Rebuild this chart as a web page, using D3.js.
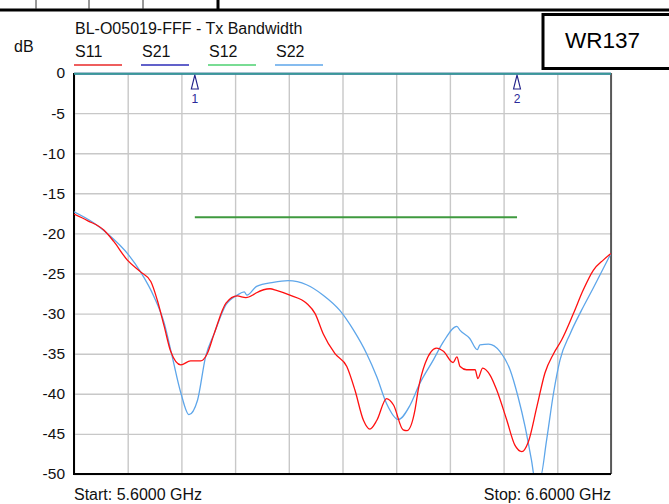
<!DOCTYPE html>
<html>
<head>
<meta charset="utf-8">
<title>BL-O05019-FFF - Tx Bandwidth</title>
<style>
  body { margin: 0; background: #fff; }
  svg { display: block; font-family: "Liberation Sans", Arial, sans-serif; }
</style>
</head>
<body>
<script src="https://cdn.jsdelivr.net/npm/d3@7/dist/d3.min.js"></script>
<script>
// 数据 (GHz, dB)
const s11Freq = [5.600, 5.625, 5.656, 5.674, 5.699, 5.724, 5.743, 5.755, 5.768, 5.780, 5.799, 5.817, 5.836, 5.848, 5.861, 5.883, 5.904, 5.920, 5.935, 5.940, 5.965, 5.977, 6.002, 6.033, 6.049, 6.064, 6.086, 6.108, 6.123, 6.139, 6.151, 6.164, 6.182, 6.195, 6.213, 6.220, 6.235, 6.241, 6.254, 6.275, 6.288, 6.306, 6.313, 6.319, 6.331, 6.347, 6.352, 6.361, 6.375, 6.387, 6.406, 6.421, 6.434, 6.446, 6.462, 6.477, 6.493, 6.508, 6.530, 6.548, 6.567, 6.586, 6.600];
const s11Db = [-17.6, -18.4, -19.6, -21.0, -23.3, -24.8, -26.0, -28.3, -31.6, -34.7, -36.4, -35.9, -35.9, -35.0, -32.5, -28.7, -27.8, -28.0, -27.6, -27.4, -26.9, -27.1, -27.7, -28.7, -30.0, -32.5, -35.0, -36.6, -39.5, -43.3, -44.4, -43.3, -40.6, -41.4, -44.5, -44.6, -42.0, -39.5, -36.2, -34.3, -34.7, -36.1, -35.4, -36.6, -37.0, -37.0, -38.1, -36.8, -37.7, -39.5, -43.3, -46.4, -47.2, -46.0, -41.6, -37.4, -35.0, -33.3, -30.0, -27.1, -24.6, -23.3, -22.5];

const s22Freq = [5.600, 5.637, 5.662, 5.702, 5.724, 5.749, 5.768, 5.783, 5.799, 5.814, 5.830, 5.845, 5.861, 5.883, 5.904, 5.917, 5.922, 5.940, 5.971, 5.999, 6.033, 6.064, 6.095, 6.120, 6.145, 6.164, 6.182, 6.204, 6.226, 6.244, 6.269, 6.288, 6.313, 6.319, 6.337, 6.351, 6.356, 6.372, 6.393, 6.412, 6.427, 6.440, 6.452, 6.458, 6.468, 6.480, 6.493, 6.505, 6.524, 6.545, 6.567, 6.600];
const s22Db = [-17.3, -18.7, -20.0, -22.7, -24.8, -27.9, -31.2, -35.4, -39.9, -42.6, -40.8, -35.4, -32.5, -28.9, -27.7, -27.3, -27.7, -26.6, -26.1, -25.9, -26.4, -27.7, -29.6, -32.0, -35.0, -37.9, -41.2, -43.2, -41.4, -38.7, -35.8, -33.5, -31.6, -32.1, -33.1, -34.5, -33.9, -33.8, -34.7, -37.0, -40.4, -44.1, -48.3, -50.5, -50.5, -45.8, -39.9, -35.8, -32.5, -29.6, -26.8, -22.5];

const s21Freq = [5.6, 6.6];
const s21Db = [-0.1, -0.1];
const s12Freq = [5.6, 6.6];
const s12Db = [-0.1, -0.1];

const yTicks = [0, -5, -10, -15, -20, -25, -30, -35, -40, -45, -50];
const xGrid = [5.6, 5.7, 5.8, 5.9, 6.0, 6.1, 6.2, 6.3, 6.4, 6.5, 6.6];

const markerFreq = [5.825, 6.425];
const markerLabel = ["1", "2"];
const limitDb = -18;

const seriesNames = ["S11", "S21", "S12", "S22"];
const seriesColors = ["#e82828", "#2c2cb8", "#4cd070", "#5ea6ea"];

// 画布
const width = 669, height = 504;
const plot = { left: 74, right: 611, top: 73, bottom: 474 };

const svg = d3.select("body").append("svg").attr("width", width).attr("height", height);

const x = d3.scaleLinear().domain([5.6, 6.6]).range([plot.left, plot.right]);
const y = d3.scaleLinear().domain([-50, 0]).range([plot.bottom, plot.top]);

// 顶部表格线
svg.append("rect").attr("x", 0).attr("y", 8.5).attr("width", width).attr("height", 3).attr("fill", "#000");
[36, 89, 143].forEach(function(px) {
    svg.append("line").attr("x1", px).attr("x2", px).attr("y1", 0).attr("y2", 9)
        .attr("stroke", "#333").attr("stroke-width", 1);
});
svg.append("rect").attr("x", 216.5).attr("y", 0).attr("width", 3).attr("height", 11).attr("fill", "#000");

// WR137 框
svg.append("rect").attr("x", 543).attr("y", 14.5).attr("width", 140).attr("height", 54)
    .attr("fill", "#fff").attr("stroke", "#000").attr("stroke-width", 3);
svg.append("text").attr("x", 565).attr("y", 48).attr("font-size", 22.5).text("WR137");

// 标题和图例
svg.append("text").attr("x", 75).attr("y", 34).attr("font-size", 16).attr("fill", "#111")
    .text("BL-O05019-FFF - Tx Bandwidth");
svg.append("text").attr("x", 14).attr("y", 52).attr("font-size", 16).attr("fill", "#111").text("dB");

const legend = svg.selectAll(".legend").data(seriesNames).enter().append("g")
    .attr("class", "legend")
    .attr("transform", function(d, i) { return "translate(" + (74 + i * 67) + ",0)"; });
legend.append("text").attr("x", 1).attr("y", 57).attr("font-size", 16).attr("fill", "#111")
    .text(function(d) { return d; });
legend.append("line").attr("x1", 0).attr("x2", 48).attr("y1", 65).attr("y2", 65)
    .attr("stroke", function(d, i) { return seriesColors[i]; }).attr("stroke-width", 1.3);

// 网格
svg.append("g")
    .attr("transform", "translate(0," + plot.bottom + ")")
    .call(d3.axisBottom(x).tickValues(xGrid).tickSize(-(plot.bottom - plot.top)).tickFormat(""))
    .call(function(g) { g.select(".domain").remove(); })
    .selectAll("line").attr("stroke", "#c8c8c8").attr("stroke-width", 1.4);

svg.append("g")
    .attr("transform", "translate(" + plot.left + ",0)")
    .call(d3.axisLeft(y).tickValues(yTicks).tickSize(-(plot.right - plot.left)).tickFormat(""))
    .call(function(g) { g.select(".domain").remove(); })
    .selectAll("line").attr("stroke", "#c8c8c8").attr("stroke-width", 1.4);

// y轴刻度文字 (普通连字符)
svg.append("g")
    .attr("transform", "translate(" + plot.left + ",0)")
    .call(d3.axisLeft(y).tickValues(yTicks).tickSize(0).tickPadding(9).tickFormat(function(d) { return String(d); }))
    .call(function(g) { g.select(".domain").remove(); })
    .selectAll("text").attr("font-size", 15.5).attr("fill", "#111")
    .attr("font-family", "Liberation Sans, Arial, sans-serif");

// 边框
svg.append("line").attr("x1", plot.right).attr("x2", plot.right).attr("y1", plot.top).attr("y2", plot.bottom)
    .attr("stroke", "#333").attr("stroke-width", 1.5);
svg.append("line").attr("x1", plot.left).attr("x2", plot.left).attr("y1", plot.top).attr("y2", plot.bottom + 1)
    .attr("stroke", "#000").attr("stroke-width", 2);
svg.append("line").attr("x1", plot.left - 1).attr("x2", plot.right).attr("y1", plot.bottom).attr("y2", plot.bottom)
    .attr("stroke", "#000").attr("stroke-width", 2);

// 曲线
svg.append("clipPath").attr("id", "clip").append("rect")
    .attr("x", plot.left).attr("y", plot.top - 2).attr("width", plot.right - plot.left).attr("height", plot.bottom - plot.top + 1);

const line = d3.line()
    .x(function(d) { return x(d[0]); })
    .y(function(d) { return y(d[1]); })
    .curve(d3.curveMonotoneX);

const traces = [
    { f: s21Freq, v: s21Db, color: seriesColors[1], w: 2, op: 1 },
    { f: s12Freq, v: s12Db, color: "#3cc08c", w: 2, op: 0.75 },
    { f: s22Freq, v: s22Db, color: seriesColors[3], w: 1.3, op: 1 },
    { f: s11Freq, v: s11Db, color: "#ff1010", w: 1.3, op: 1 }
];
const pg = svg.append("g").attr("clip-path", "url(#clip)");
traces.forEach(function(t) {
    pg.append("path")
        .datum(d3.zip(t.f, t.v))
        .attr("d", line)
        .attr("fill", "none")
        .attr("stroke", t.color)
        .attr("stroke-width", t.w)
        .attr("stroke-opacity", t.op);
});

// 限制线
svg.append("line")
    .attr("x1", x(markerFreq[0])).attr("x2", x(markerFreq[1]))
    .attr("y1", y(limitDb)).attr("y2", y(limitDb))
    .attr("stroke", "#3f9a3f").attr("stroke-width", 2);

// 标记
const markers = svg.selectAll(".marker").data(markerFreq).enter().append("g")
    .attr("class", "marker")
    .attr("transform", function(d) { return "translate(" + x(d) + "," + y(0) + ")"; });
markers.append("path").attr("d", "M0,2 L-3.5,16 L3.5,16 Z")
    .attr("fill", "#fff").attr("stroke", "#22228a").attr("stroke-width", 1.1);
markers.append("text").attr("x", 0).attr("y", 30).attr("text-anchor", "middle")
    .attr("font-size", 12).attr("fill", "#2a2a9a")
    .text(function(d, i) { return markerLabel[i]; });

// 底部文字
svg.append("text").attr("x", plot.left).attr("y", 500).attr("font-size", 16).attr("fill", "#111")
    .text("Start: 5.6000 GHz");
svg.append("text").attr("x", plot.right).attr("y", 500).attr("font-size", 16).attr("fill", "#111")
    .attr("text-anchor", "end").text("Stop: 6.6000 GHz");
</script>
</body>
</html>
